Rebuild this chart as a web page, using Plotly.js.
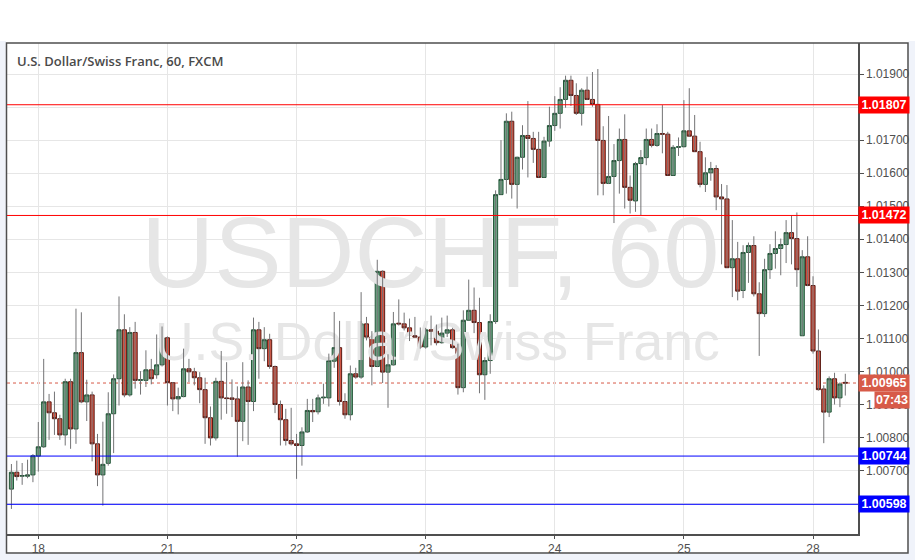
<!DOCTYPE html>
<html>
<head>
<meta charset="utf-8">
<script src="https://cdn.plot.ly/plotly-3.0.1.min.js"></script>
<style>html,body{margin:0;padding:0;background:#fff;}#chart{width:915px;height:560px;}</style>
</head>
<body>
<div id="chart"></div>
<script>
// ---- Data (USD/CHF, 1h, FXCM) ----
const symbolTitle = 'U.S. Dollar/Swiss Franc, 60, FXCM';
const watermarkBig = 'USDCHF, 60';
const watermarkSmall = 'U.S. Dollar/Swiss Franc';
const firstBarTime = '2017-08-17T19:00:00Z';

const open = [
1.00644,1.00695,1.00683,1.00683,1.00687,1.00744,1.00772,1.00908,1.00875,1.00857,
1.00808,1.00969,1.00826,1.01057,1.00908,1.00929,1.00781,1.00687,1.00722,1.00872,
1.00978,1.01126,1.00929,1.01118,1.00973,1.00973,1.01005,1.00990,1.01020,1.01102,
1.00966,1.00917,1.00924,1.01008,1.00999,1.00981,1.00945,1.00860,1.00799,1.00970,
1.00920,1.00920,1.00917,1.00849,1.00953,1.00909,1.01126,1.01069,1.01096,1.01015,
1.00900,1.00854,1.00791,1.00781,1.00776,1.00817,1.00882,1.00878,1.00920,1.00920,
1.01031,1.01072,1.00909,1.00869,1.00993,1.00983,1.01144,1.01104,1.01015,1.01303,
1.00998,1.01020,1.01146,1.01144,1.01132,1.01108,1.01104,1.01074,1.01126,1.01122,
1.01087,1.01116,1.01126,1.01072,1.00951,1.01155,1.01185,1.01148,1.00990,1.01033,
1.01151,1.01535,1.01581,1.01757,1.01566,1.01648,1.01714,1.01705,1.01672,1.01587,
1.01697,1.01744,1.01781,1.01823,1.01881,1.01835,1.01781,1.01851,1.01823,1.01808,
1.01699,1.01569,1.01590,1.01638,1.01702,1.01557,1.01516,1.01629,1.01647,1.01702,
1.01684,1.01720,1.01718,1.01593,1.01678,1.01680,1.01728,1.01712,1.01665,1.01566,
1.01601,1.01614,1.01528,1.01522,1.01314,1.01341,1.01245,1.01360,1.01381,1.01235,
1.01175,1.01308,1.01357,1.01372,1.01384,1.01420,1.01402,1.01108,1.01347,1.01260,
1.01062,1.00947,1.00877,1.00978,1.00920,1.00967];
const high = [
1.00720,1.00730,1.00723,1.00733,1.00750,1.00847,1.01038,1.00932,1.00939,1.00869,
1.00978,1.00978,1.01190,1.01179,1.00975,1.00939,1.00811,1.00848,1.00937,1.00991,
1.01227,1.01173,1.01134,1.01150,1.01001,1.01064,1.01038,1.01112,1.01136,1.01106,
1.00968,1.00951,1.01069,1.01038,1.01011,1.00998,1.00981,1.00894,1.00981,1.01062,
1.01028,1.00976,1.00955,1.01028,1.00973,1.01163,1.01150,1.01134,1.01114,1.01018,
1.00912,1.00887,1.00890,1.00811,1.00831,1.00917,1.00917,1.00930,1.00963,1.01054,
1.01180,1.01153,1.00934,1.01018,1.01011,1.01240,1.01165,1.01122,1.01338,1.01306,
1.01052,1.01180,1.01218,1.01178,1.01160,1.01165,1.01133,1.01132,1.01169,1.01142,
1.01163,1.01169,1.01132,1.01084,1.01185,1.01278,1.01254,1.01223,1.01043,1.01173,
1.01548,1.01700,1.01781,1.01786,1.01650,1.01745,1.01818,1.01725,1.01725,1.01710,
1.01801,1.01833,1.01860,1.01895,1.01895,1.01872,1.01857,1.01892,1.01906,1.01915,
1.01742,1.01773,1.01688,1.01735,1.01778,1.01593,1.01634,1.01670,1.01735,1.01735,
1.01748,1.01806,1.01725,1.01685,1.01708,1.01821,1.01857,1.01776,1.01695,1.01648,
1.01634,1.01624,1.01567,1.01564,1.01458,1.01392,1.01382,1.01390,1.01409,1.01270,
1.01341,1.01385,1.01424,1.01402,1.01458,1.01473,1.01481,1.01367,1.01409,1.01288,
1.01127,1.00958,1.00985,1.00996,1.00967,1.00993];
const low = [
1.00584,1.00670,1.00657,1.00677,1.00665,1.00697,1.00769,1.00793,1.00808,1.00793,
1.00776,1.00766,1.00781,1.00904,1.00850,1.00728,1.00653,1.00594,1.00715,1.00753,
1.00897,1.00922,1.00924,1.00948,1.00930,1.00953,1.00961,1.00978,1.01015,1.00897,
1.00880,1.00870,1.00922,1.00968,1.00958,1.00904,1.00781,1.00776,1.00791,1.00854,
1.00872,1.00862,1.00742,1.00789,1.00778,1.00880,1.00978,1.01031,1.01008,1.00874,
1.00776,1.00776,1.00776,1.00675,1.00715,1.00814,1.00847,1.00870,1.00902,1.00894,
1.01011,1.00897,1.00857,1.00852,1.00978,1.00978,1.01094,1.00958,1.01013,1.00965,
1.00890,1.01018,1.01139,1.01124,1.01092,1.01104,1.01069,1.01069,1.01079,1.01079,
1.01084,1.01104,1.01069,1.00930,1.00937,1.01155,1.01116,1.00934,1.00914,1.00993,
1.01144,1.01535,1.01538,1.01523,1.01493,1.01611,1.01587,1.01631,1.01587,1.01587,
1.01680,1.01728,1.01735,1.01798,1.01803,1.01776,1.01744,1.01821,1.01801,1.01533,
1.01533,1.01567,1.01449,1.01538,1.01493,1.01478,1.01483,1.01473,1.01624,1.01678,
1.01680,1.01660,1.01593,1.01593,1.01652,1.01678,1.01710,1.01665,1.01557,1.01543,
1.01577,1.01488,1.01324,1.01314,1.01225,1.01215,1.01222,1.01268,1.01227,1.01047,
1.01165,1.01280,1.01311,1.01291,1.01328,1.01324,1.01256,1.01108,1.01258,1.01054,
1.00942,1.00783,1.00862,1.00900,1.00892,1.00927];
const close = [
1.00695,1.00682,1.00685,1.00687,1.00745,1.00772,1.00908,1.00875,1.00857,1.00808,
1.00969,1.00826,1.01057,1.00908,1.00929,1.00781,1.00687,1.00719,1.00872,1.00978,
1.01126,1.00929,1.01118,1.00973,1.00975,1.01005,1.00978,1.01020,1.01102,1.00966,
1.00917,1.00924,1.01008,1.00999,1.00981,1.00945,1.00860,1.00799,1.00970,1.00920,
1.00918,1.00916,1.00849,1.00953,1.00909,1.01126,1.01069,1.01096,1.01015,1.00900,
1.00854,1.00791,1.00781,1.00776,1.00817,1.00882,1.00878,1.00920,1.00922,1.01033,
1.01072,1.00909,1.00869,1.00993,1.00983,1.01144,1.01104,1.01015,1.01303,1.00998,
1.01020,1.01144,1.01144,1.01132,1.01109,1.01104,1.01074,1.01126,1.01122,1.01087,
1.01116,1.01126,1.01072,1.00951,1.01155,1.01185,1.01148,1.00990,1.01033,1.01151,
1.01535,1.01581,1.01757,1.01566,1.01648,1.01714,1.01705,1.01672,1.01587,1.01697,
1.01744,1.01781,1.01823,1.01881,1.01835,1.01781,1.01851,1.01823,1.01808,1.01699,
1.01569,1.01590,1.01638,1.01702,1.01557,1.01518,1.01629,1.01647,1.01702,1.01684,
1.01720,1.01718,1.01593,1.01678,1.01680,1.01728,1.01712,1.01665,1.01566,1.01601,
1.01614,1.01528,1.01522,1.01314,1.01341,1.01243,1.01360,1.01381,1.01235,1.01175,
1.01308,1.01357,1.01372,1.01384,1.01420,1.01402,1.01308,1.01347,1.01260,1.01062,
1.00945,1.00877,1.00978,1.00920,1.00962,1.00965];

const levelPrices = [1.01807, 1.01472, 1.00744, 1.00598];
const levelColors = ['#ff0000', '#ff0000', '#0000ff', '#0000ff'];
const lastPrice = 1.00965;
const countdownText = '07:43';

// ---- Bar times (hourly, FX weekend gap skipped) ----
const n = close.length;
const times = [];
let t = Date.parse(firstBarTime);
for (let i = 0; i < n; i++) {
  if (i > 0) {
    t += 3600e3;
    const d = new Date(t);
    if (d.getUTCDay() === 5 && d.getUTCHours() >= 21) t += 48 * 3600e3;
  }
  times.push(new Date(t));
}
const idx = times.map((_, i) => i);
const tickvals = [], ticktext = [];
times.forEach((d, i) => { if (d.getUTCHours() === 0) { tickvals.push(i); ticktext.push(String(d.getUTCDate())); } });

// ---- Geometry ----
const W = 915, H = 560;
const M = {l: 7, r: 57, t: 43, b: 26};
const PW = W - M.l - M.r, PH = H - M.t - M.b;
const px2x = p => (p - M.l) / PW;
const px2y = p => (H - M.b - p) / PH;
const xr = [-0.82, 157.36];
const yr = [1.005082, 1.019938];

// wicks
const wx = [], wy = [];
for (let i = 0; i < n; i++) { wx.push(i, i, null); wy.push(low[i], high[i], null); }

const wmFont = 'Liberation Sans, Arial, sans-serif';
const traces = [
  {type: 'scatter', mode: 'text', x: [(xr[0] + xr[1]) / 2 - 0.4], y: [yr[1] - 0.445 * (yr[1] - yr[0])],
   text: [watermarkBig], textposition: 'middle center', cliponaxis: false,
   textfont: {family: wmFont, size: 101, color: '#e6e6e6'}, hoverinfo: 'skip', showlegend: false},
  {type: 'scatter', mode: 'text', x: [(xr[0] + xr[1]) / 2 + 0.9], y: [yr[1] - 0.619 * (yr[1] - yr[0])],
   text: [watermarkSmall], textposition: 'middle center', cliponaxis: false,
   textfont: {family: wmFont, size: 53.5, color: '#e6e6e6'}, hoverinfo: 'skip', showlegend: false},
  {type: 'scatter', mode: 'lines', x: wx, y: wy, line: {color: '#737375', width: 1},
   hoverinfo: 'skip', showlegend: false, connectgaps: false},
  {type: 'candlestick', x: idx, open: open, close: close,
   high: open.map((o, i) => Math.max(o, close[i])), low: open.map((o, i) => Math.min(o, close[i])),
   increasing: {fillcolor: '#6ba583', line: {color: '#225437', width: 1}},
   decreasing: {fillcolor: '#d75442', line: {color: '#5b1a13', width: 1}},
   whiskerwidth: 0, hoverinfo: 'skip', showlegend: false}
];

const shapes = [];
const annotations = [];
const tagFont = {family: 'Liberation Sans, Arial, sans-serif', size: 12.5, color: '#ffffff'};
// gray surround
const gray = '#f0f3fa';
shapes.push({type: 'rect', xref: 'paper', yref: 'paper', x0: px2x(0), x1: px2x(6), y0: px2y(41), y1: px2y(560), fillcolor: gray, line: {width: 0}, layer: 'below'});
shapes.push({type: 'rect', xref: 'paper', yref: 'paper', x0: px2x(908.5), x1: px2x(915), y0: px2y(41), y1: px2y(560), fillcolor: gray, line: {width: 0}, layer: 'below'});
shapes.push({type: 'rect', xref: 'paper', yref: 'paper', x0: px2x(0), x1: px2x(915), y0: px2y(553.5), y1: px2y(560), fillcolor: gray, line: {width: 0}, layer: 'below'});
// frame
shapes.push({type: 'rect', xref: 'paper', yref: 'paper', x0: px2x(6.5), x1: px2x(908), y0: px2y(43), y1: px2y(553), line: {color: '#4f4f4f', width: 1.5}, fillcolor: 'rgba(0,0,0,0)'});
// last price dotted line
shapes.push({type: 'line', xref: 'paper', yref: 'y', x0: 0, x1: 1, y0: lastPrice, y1: lastPrice, line: {color: '#d75a48', width: 1, dash: 'dot'}, layer: 'below'});
// horizontal levels + tags
levelPrices.forEach((p, i) => {
  shapes.push({type: 'line', xref: 'paper', yref: 'y', x0: 0, x1: 1, y0: p, y1: p, line: {color: levelColors[i], width: 1}});
  annotations.push({xref: 'paper', yref: 'y', x: 1, y: p, xanchor: 'left', yanchor: 'middle', text: '<b>' + p.toFixed(5) + '</b>',
    showarrow: false, bgcolor: levelColors[i], width: 50, height: 16, borderpad: 0, align: 'center', font: tagFont});
});
annotations.push({xref: 'paper', yref: 'y', x: 1, y: lastPrice, xanchor: 'left', yanchor: 'middle', text: '<b>' + lastPrice.toFixed(5) + '</b>',
  showarrow: false, bgcolor: '#d75a48', width: 50, height: 16, borderpad: 0, align: 'center', font: tagFont});
annotations.push({xref: 'paper', yref: 'y', x: px2x(874), y: lastPrice, yshift: -17, xanchor: 'left', yanchor: 'middle', text: '<b>' + countdownText + '</b>',
  showarrow: false, bgcolor: '#d75a48', width: 34, height: 16, borderpad: 0, align: 'center', font: tagFont});
// title
annotations.push({xref: 'paper', yref: 'paper', x: px2x(15), y: px2y(61), xanchor: 'left', yanchor: 'middle', text: symbolTitle,
  showarrow: false, font: {family: 'Open Sans, sans-serif', size: 13, weight: 600, color: '#4a4a4a'}});

const axFont = {family: 'Liberation Sans, Arial, sans-serif', size: 12, color: '#4f4f4f'};
const layout = {
  width: W, height: H, margin: M, paper_bgcolor: '#ffffff', plot_bgcolor: '#ffffff', showlegend: false,
  xaxis: {type: 'linear', range: xr, tickvals: tickvals, ticktext: ticktext, showgrid: true, gridcolor: '#e6e6e6', gridwidth: 1,
    zeroline: false, showline: true, linecolor: '#4f4f4f', linewidth: 1.5, ticks: 'outside', ticklen: 3, tickcolor: '#4f4f4f',
    tickfont: axFont, rangeslider: {visible: false}, fixedrange: true},
  yaxis: {side: 'right', range: yr, dtick: 0.001, tick0: 1.005, tickformat: '.5f', showgrid: true, gridcolor: '#e6e6e6', gridwidth: 1,
    zeroline: false, showline: true, linecolor: '#4f4f4f', linewidth: 1.5, ticks: 'outside', ticklen: 4, tickcolor: '#4f4f4f',
    tickfont: axFont, fixedrange: true},
  shapes: shapes, annotations: annotations, boxgap: 0.24, boxgroupgap: 0
};

Plotly.newPlot('chart', traces, layout, {displayModeBar: false, staticPlot: true});
</script>
</body>
</html>
